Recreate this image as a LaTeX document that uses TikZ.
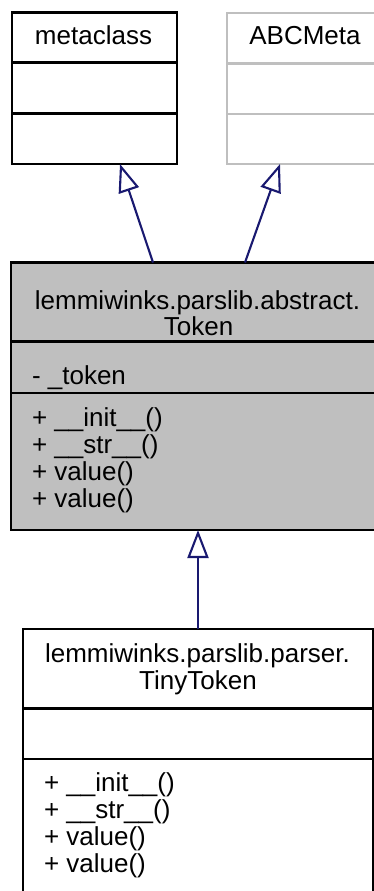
\documentclass[tikz,border=0pt]{standalone}
\usepackage{fontspec}
\setmainfont{Liberation Sans}
\usetikzlibrary{arrows.meta}
\definecolor{edgeblue}{HTML}{191970}
\definecolor{boxgray}{HTML}{BFBFBF}
\begin{document}
\begin{tikzpicture}[x=1pt,y=-1pt,
  classbox/.style={draw=black, line width=2.1pt, rectangle, inner sep=0pt, outer sep=0pt},
  divline/.style={draw=black, line width=2.1pt},
  txt/.style={inner sep=0pt, outer sep=0pt, font=\fontsize{26}{27}\selectfont, text=black},
  lefttxt/.style={txt, anchor=base west},
  midtxt/.style={txt, anchor=base},
  inh/.style={draw=edgeblue, line width=2.1pt, -{Triangle[open, length=28pt, width=21pt, line width=2.1pt]}}
]
\useasboundingbox (0,0) rectangle (374,891);
\clip (0,0) rectangle (374,891);

% metaclass
\node[classbox, minimum width=165pt, minimum height=151.5pt] (meta) at (94.5,88.25) {};
\draw[divline] ([yshift=-50pt]meta.north west) -- ([yshift=-50pt]meta.north east);
\draw[divline] ([yshift=-101pt]meta.north west) -- ([yshift=-101pt]meta.north east);
\node[midtxt] (metaname) at (93.5,45) {metaclass};

% ABCMeta
\node[classbox, draw=boxgray, minimum width=159pt, minimum height=151pt] (abc) at (306.5,88.5) {};
\draw[divline, draw=boxgray] ([yshift=-50.5pt]abc.north west) -- ([yshift=-50.5pt]abc.north east);
\draw[divline, draw=boxgray] ([yshift=-101pt]abc.north west) -- ([yshift=-101pt]abc.north east);
\node[midtxt] (abcname) at (305,45) {ABCMeta};

% Token
\node[classbox, fill=boxgray, minimum width=374pt, minimum height=267.5pt] (token) at (198,396.25) {};
\draw[divline] ([yshift=-79pt]token.north west) -- ([yshift=-79pt]token.north east);
\draw[divline] ([yshift=-130.5pt]token.north west) -- ([yshift=-130.5pt]token.north east);
\node[midtxt] (tokname1) at (197.5,309) {lemmiwinks.parslib.abstract.};
\node[midtxt] (tokname2) at (198.5,335) {Token};
\node[lefttxt] (tokattr) at (32,384) {- \_token};
\node[lefttxt] (tokm1) at (32,426) {+ \_\_init\_\_()};
\node[lefttxt] (tokm2) at (32,453) {+ \_\_str\_\_()};
\node[lefttxt] (tokm3) at (32,480) {+ value()};
\node[lefttxt] (tokm4) at (32,507) {+ value()};

% TinyToken
\node[classbox, fill=white, minimum width=350pt, minimum height=271pt] (tiny) at (198,764.5) {};
\draw[divline] ([yshift=-79.5pt]tiny.north west) -- ([yshift=-79.5pt]tiny.north east);
\draw[divline] ([yshift=-130pt]tiny.north west) -- ([yshift=-130pt]tiny.north east);
\node[midtxt] (tinyname1) at (197.5,662) {lemmiwinks.parslib.parser.};
\node[midtxt] (tinyname2) at (198,689) {TinyToken};
\node[lefttxt] (tinym1) at (44,791) {+ \_\_init\_\_()};
\node[lefttxt] (tinym2) at (44,818) {+ \_\_str\_\_()};
\node[lefttxt] (tinym3) at (44,845) {+ value()};
\node[lefttxt] (tinym4) at (44,872) {+ value()};

% inheritance arrows
\draw[inh] ([xshift=142pt]token.north west) -- ([xshift=108pt]meta.south west);
\draw[inh] ([xshift=234pt]token.north west) -- ([xshift=53pt]abc.south west);
\draw[inh] (tiny.north) -- (token.south);
\end{tikzpicture}
\end{document}
